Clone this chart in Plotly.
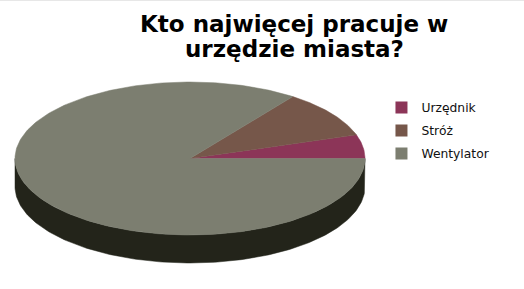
import math
import plotly.graph_objects as go

# ---- data ----
categories = ["Urzędnik", "Stróż", "Wentylator"]
values = [5, 10, 85]
top_colors = ["#8c3558", "#76574a", "#7c7e70"]
side_colors = ["#4a1a2e", "#3d2c25", "#23241a"]
title_lines = ["Kto najwięcej pracuje w", "urzędzie miasta?"]

# ---- geometry of the pseudo-3D pie (pixel space) ----
W, H = 524, 289
cx, cy = 190, 158.5
rx, ry = 175, 76.5
depth = 28
start_deg = 0.0


def pt(t_deg, dy=0.0):
    t = math.radians(t_deg)
    return cx + rx * math.cos(t), cy - ry * math.sin(t) + dy


def arc(a0, a1, dy=0.0, n_per_deg=1.0):
    n = max(2, int(abs(a1 - a0) * n_per_deg) + 1)
    xs, ys = [], []
    for i in range(n):
        a = a0 + (a1 - a0) * i / (n - 1)
        x, y = pt(a, dy)
        xs.append(x)
        ys.append(y)
    return xs, ys


total = float(sum(values))
bounds = []
a = start_deg
for v in values:
    b = a + 360.0 * v / total
    bounds.append((a, b))
    a = b

fig = go.Figure()

# side walls (visible front half: 180..360 degrees)
for (a0, a1), col in zip(bounds, side_colors):
    s0, s1 = max(a0, 180.0), min(a1, 360.0)
    if s1 <= s0:
        continue
    xt, yt = arc(s0, s1)
    xb, yb = arc(s1, s0, dy=depth)
    fig.add_trace(go.Scatter(
        x=xt + xb + [xt[0]], y=yt + yb + [yt[0]],
        mode="lines", fill="toself", fillcolor=col,
        line=dict(color=col, width=0.5),
        hoverinfo="skip", showlegend=False))

# top faces
for (a0, a1), col, name, v in zip(bounds, top_colors, categories, values):
    xs, ys = arc(a0, a1)
    fig.add_trace(go.Scatter(
        x=[cx] + xs + [cx], y=[cy] + ys + [cy],
        mode="lines", fill="toself", fillcolor=col,
        line=dict(color=col, width=0.5),
        name=name, text=f"{name}: {v}", hoverinfo="text",
        showlegend=False))

# legend entries
for name, col in zip(categories, top_colors):
    fig.add_trace(go.Scatter(
        x=[None], y=[None], mode="markers", name=name,
        legendgroup=name,
        marker=dict(symbol="square", size=12, color=col)))

title_y = [23.5, 49.5]
annotations = [dict(
    text=line, xref="paper", yref="paper",
    x=294 / W, xanchor="center", y=1 - yy / H, yanchor="middle",
    showarrow=False, align="center",
    font=dict(family="DejaVu Sans", size=23, color="#000000",
              weight="bold")) for line, yy in zip(title_lines, title_y)]

fig.update_layout(
    width=W, height=H,
    margin=dict(l=0, r=0, t=0, b=0),
    paper_bgcolor="white", plot_bgcolor="white",
    xaxis=dict(range=[0, W], visible=False, fixedrange=True),
    yaxis=dict(range=[H, 0], visible=False, fixedrange=True),
    showlegend=True,
    legend=dict(
        x=0.728, y=1 - 93 / H, xanchor="left", yanchor="top",
        font=dict(family="DejaVu Sans", size=12.3, color="#111111"),
        bgcolor="rgba(0,0,0,0)", tracegroupgap=4,
        itemsizing="trace"),
    annotations=annotations,
    shapes=[dict(type="line", xref="paper", yref="paper",
                 x0=0, x1=1, y0=1, y1=1,
                 line=dict(color="#d0d0d0", width=1))],
)

fig.write_html("out.html")
